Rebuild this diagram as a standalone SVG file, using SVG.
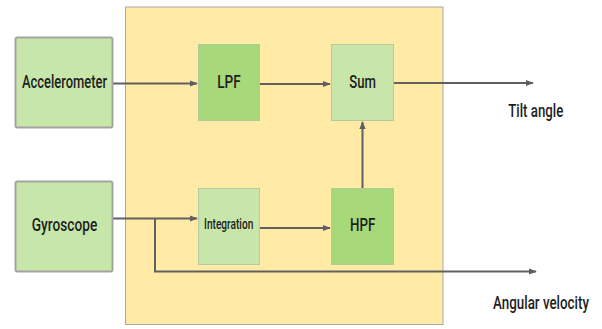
<svg xmlns="http://www.w3.org/2000/svg" width="602" height="329" viewBox="0 0 602 329">
  <defs>
    <marker id="arrow" viewBox="0 0 10 10" refX="9" refY="5" markerWidth="4" markerHeight="4" orient="auto">
      <path d="M0,1 L10,5 L0,9 z" fill="#5f5f5f"/>
    </marker>
    <style>
      .panel { fill: #ffeba6; stroke: #a8a8a8; stroke-width: 1; }
      .sensor { fill: #c7e6a9; stroke: #a3a3a3; stroke-width: 2; }
      .light { fill: #c8e6aa; stroke: #b5c9a0; stroke-width: 1; }
      .dark { fill: #a7d879; stroke: #b2c99c; stroke-width: 1; }
      .wire { fill: none; stroke: #606060; stroke-width: 2; }
      text { font-family: Roboto, "Liberation Sans", sans-serif; font-weight: 500; fill: #1e1e1e; text-anchor: middle; }
      .big { font-size: 18px; }
      .small { font-size: 14px; }
    </style>
  </defs>

  <rect x="0" y="0" width="602" height="329" fill="#ffffff"/>

  <!-- processing panel -->
  <rect class="panel" x="125.5" y="7" width="317.5" height="317.5"/>

  <!-- connectors -->
  <g id="connectors">
    <path class="wire" d="M113,83.5 H197" marker-end="url(#arrow)"/>
    <path class="wire" d="M260,84 H330" marker-end="url(#arrow)"/>
    <path class="wire" d="M394,83 H533" marker-end="url(#arrow)"/>
    <path class="wire" d="M113,218.5 H197" marker-end="url(#arrow)"/>
    <path class="wire" d="M260,228 H330" marker-end="url(#arrow)"/>
    <path class="wire" d="M362.5,188 V122" marker-end="url(#arrow)"/>
    <path class="wire" d="M155,218.5 V271.5 H536" marker-end="url(#arrow)"/>
  </g>

  <g id="accelerometer">
    <rect class="sensor" x="15.5" y="37.5" width="97" height="90" rx="2"/>
    <text class="big" x="64.5" y="87.5" textLength="85" lengthAdjust="spacingAndGlyphs">Accelerometer</text>
  </g>

  <g id="gyroscope">
    <rect class="sensor" x="15.5" y="181.5" width="97" height="90" rx="2"/>
    <text class="big" x="64.5" y="231" textLength="65.5" lengthAdjust="spacingAndGlyphs">Gyroscope</text>
  </g>

  <g id="lpf">
    <rect class="dark" x="198.5" y="44.5" width="61" height="76"/>
    <text class="big" x="229" y="87.5" textLength="23.5" lengthAdjust="spacingAndGlyphs">LPF</text>
  </g>

  <g id="sum">
    <rect class="light" x="331.5" y="44.5" width="62" height="76"/>
    <text class="big" x="362.7" y="87.5" textLength="26.7" lengthAdjust="spacingAndGlyphs">Sum</text>
  </g>

  <g id="integration">
    <rect class="light" x="198.5" y="188.5" width="61" height="76"/>
    <text class="small" x="228.7" y="229" textLength="49.3" lengthAdjust="spacingAndGlyphs">Integration</text>
  </g>

  <g id="hpf">
    <rect class="dark" x="331.5" y="188.5" width="62" height="76"/>
    <text class="big" x="362.7" y="231" textLength="25.3" lengthAdjust="spacingAndGlyphs">HPF</text>
  </g>

  <g id="tilt-angle">
    <text class="big" x="535.8" y="116.5" textLength="55" lengthAdjust="spacingAndGlyphs">Tilt angle</text>
  </g>

  <g id="angular-velocity">
    <text class="big" transform="translate(541,309) scale(0.706,1)" x="0" y="0" textLength="136" lengthAdjust="spacingAndGlyphs">Angular velocity</text>
  </g>
</svg>
